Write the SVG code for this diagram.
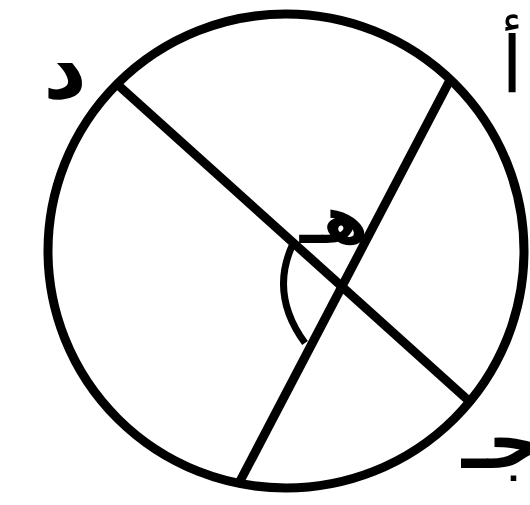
<svg xmlns="http://www.w3.org/2000/svg" width="530" height="505" viewBox="0 0 530 505">
<style>
.ln{fill:none;stroke:#000;stroke-width:9;stroke-linecap:butt}
.arc{fill:none;stroke:#000;stroke-width:7}
.lb{font-family:"DejaVu Sans",sans-serif;font-weight:bold;fill:#000;text-anchor:middle}
.thin{font-weight:normal}
</style>
<rect width="530" height="505" fill="#fff"/>
<g id="circle">
<ellipse cx="286" cy="251" rx="238" ry="237" class="ln" stroke-width="10"/>
</g>
<g id="connectors">
<line x1="118" y1="85" x2="469" y2="401" class="ln"/>
<line x1="450" y1="80" x2="238" y2="485" class="ln"/>
<path d="M292 246 Q270 295 305 343" class="arc"/>
</g>
<g id="label-d"><text x="65" y="98" font-size="85" class="lb">د</text></g>
<g id="label-a"><text x="512" y="92" font-size="78" class="lb thin">أ</text></g>
<g id="label-j"><text x="502" y="468" font-size="76" class="lb">جـ</text></g>
<g id="label-h"><text x="334" y="243" font-size="66" class="lb">هـ</text></g>
</svg>
